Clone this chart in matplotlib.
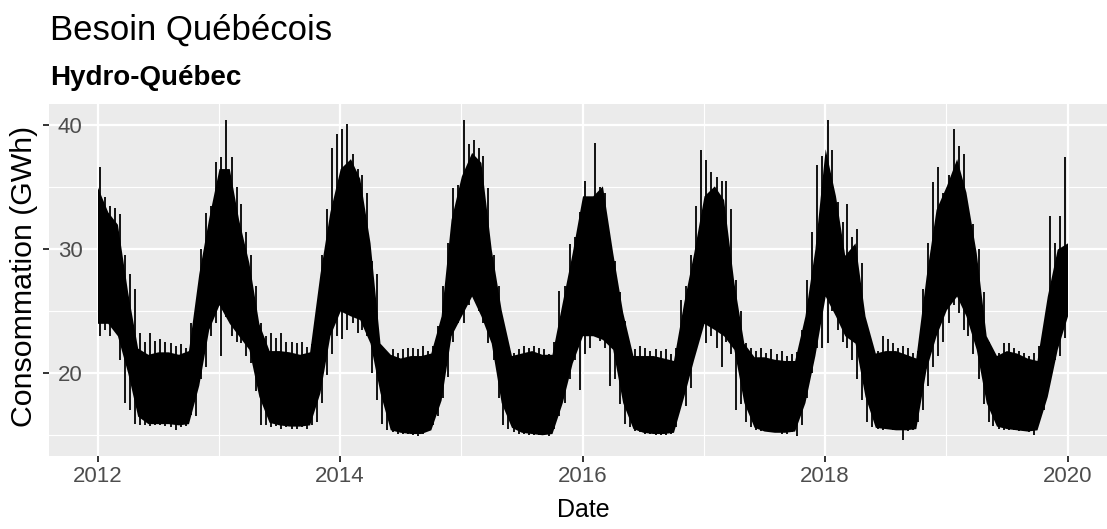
import matplotlib
matplotlib.use('Agg')
import matplotlib.pyplot as plt
import matplotlib.dates as mdates
import pandas as pd

plt.rcParams['font.family'] = ['Liberation Sans', 'DejaVu Sans']

# Besoin québécois (GWh), valeurs lues sur le graphique d'origine
# coeur de la bande : valeur au 1er de chaque mois (dernier point = 31 déc. 2019)
core_top = [
    35.0, 33.0, 32.0, 26.5, 22.0, 21.5, 21.7, 21.7, 21.5, 21.8, 28.0, 32.5,  # 2012
    36.5, 36.5, 32.4, 28.9, 24.0, 21.8, 21.8, 21.7, 21.5, 21.7, 28.0, 33.0,  # 2013
    36.5, 37.3, 35.7, 30.5, 22.4, 21.5, 21.2, 21.4, 21.4, 21.6, 24.6, 32.4,  # 2014
    35.9, 37.8, 37.0, 30.0, 25.1, 21.4, 21.6, 21.8, 21.5, 21.5, 25.7, 29.7,  # 2015
    34.3, 34.3, 35.1, 29.7, 24.9, 21.4, 21.4, 21.4, 21.2, 21.0, 25.7, 29.7,  # 2016
    34.3, 35.1, 34.0, 27.3, 22.4, 21.3, 21.3, 21.1, 21.0, 21.0, 24.6, 30.0,  # 2017
    38.1, 34.3, 29.5, 30.5, 24.6, 21.6, 21.8, 21.8, 21.5, 21.2, 27.8, 33.2,  # 2018
    35.1, 37.3, 34.6, 29.7, 23.0, 21.4, 21.8, 21.6, 21.2, 21.0, 26.2, 30.0,  # 2019
    30.5,
]
core_bot = [
    24.0, 24.0, 23.0, 20.0, 16.5, 15.9, 15.9, 15.9, 15.8, 15.9, 19.0, 23.5,
    25.5, 24.0, 23.0, 21.9, 18.1, 16.0, 15.8, 15.7, 15.7, 15.8, 18.4, 23.0,
    25.0, 24.6, 24.3, 22.4, 18.4, 15.4, 15.2, 15.1, 15.1, 15.4, 17.8, 23.0,
    24.6, 26.2, 24.6, 22.4, 17.6, 15.6, 15.2, 15.1, 15.0, 15.1, 17.6, 20.8,
    23.0, 23.0, 22.7, 21.9, 17.6, 15.5, 15.2, 15.1, 15.1, 15.2, 18.1, 21.1,
    24.0, 23.5, 23.0, 21.9, 17.6, 15.6, 15.3, 15.2, 15.2, 15.3, 17.6, 21.4,
    26.2, 24.6, 23.0, 22.4, 18.1, 15.6, 15.5, 15.4, 15.4, 15.5, 20.3, 23.0,
    25.1, 26.2, 24.6, 21.9, 17.6, 15.7, 15.5, 15.4, 15.3, 15.4, 18.1, 21.9,
    24.6,
]

# pointes haute et basse, autour du 8 et du 23 de chaque mois
spike_hi = [
    36.6, 34.2, 33.5, 33.3, 32.8, 29.5, 28.0, 26.8, 23.2, 22.5, 23.2, 22.6,
    22.7, 22.5, 22.4, 22.2, 22.3, 22.0, 24.0, 25.0, 30.0, 32.9, 33.5, 37.0,  # 2012
    37.4, 40.4, 37.4, 35.0, 33.6, 31.4, 29.5, 27.0, 24.0, 23.0, 23.2, 22.8,
    23.2, 22.5, 22.5, 22.4, 22.5, 22.1, 22.3, 24.6, 29.5, 33.2, 38.2, 39.3,  # 2013
    39.7, 40.1, 37.7, 36.5, 36.0, 34.5, 29.0, 28.0, 22.0, 21.6, 21.9, 21.6,
    21.9, 22.0, 22.0, 21.9, 22.2, 21.8, 22.2, 23.8, 27.0, 30.5, 34.9, 35.2,  # 2014
    40.4, 38.5, 38.8, 38.2, 37.5, 34.9, 29.5, 27.0, 22.5, 21.6, 21.6, 21.9,
    22.2, 22.0, 22.2, 22.0, 21.9, 21.5, 22.5, 26.6, 27.0, 30.4, 31.0, 33.0,  # 2015
    35.5, 34.0, 38.6, 35.0, 34.5, 30.0, 29.0, 26.5, 24.2, 22.0, 21.9, 22.2,
    22.0, 21.8, 21.9, 21.8, 21.9, 21.5, 22.0, 25.9, 27.0, 29.5, 33.5, 38.0,  # 2016
    37.2, 36.2, 35.8, 35.5, 35.5, 33.2, 27.5, 25.0, 22.4, 22.0, 21.8, 22.0,
    21.6, 21.9, 21.5, 21.8, 21.4, 21.5, 21.7, 23.5, 27.5, 31.4, 36.8, 37.5,  # 2017
    40.4, 38.0, 33.8, 32.2, 33.6, 31.0, 31.6, 28.9, 22.0, 21.4, 21.8, 23.0,
    22.7, 22.4, 22.0, 22.2, 22.0, 21.6, 21.8, 26.8, 30.5, 35.4, 36.6, 34.5,  # 2018
    36.0, 39.7, 38.3, 37.7, 33.0, 32.0, 30.0, 26.5, 22.5, 21.8, 21.6, 22.4,
    22.4, 22.0, 21.8, 21.6, 21.4, 21.6, 22.2, 23.0, 32.7, 30.5, 32.7, 37.4,  # 2019
]
spike_lo = [
    23.0, 23.5, 23.0, 23.4, 21.0, 17.6, 17.0, 15.9, 15.8, 15.8, 15.7, 15.8,
    15.8, 15.7, 15.6, 15.4, 15.6, 15.7, 16.6, 16.5, 19.5, 20.5, 23.0, 24.0,
    21.4, 24.5, 23.0, 22.5, 22.4, 21.4, 20.8, 18.5, 15.8, 15.8, 15.6, 15.7,
    15.5, 15.6, 15.5, 15.5, 15.6, 15.5, 15.8, 16.0, 17.6, 19.8, 21.5, 23.0,
    22.7, 23.5, 24.0, 23.2, 23.5, 23.0, 20.0, 17.8, 15.9, 15.4, 15.2, 15.1,
    15.1, 15.1, 15.0, 14.9, 15.1, 15.3, 15.8, 16.5, 18.0, 19.7, 22.5, 24.0,
    24.0, 25.5, 26.5, 25.0, 24.0, 22.4, 21.0, 18.0, 15.8, 15.5, 15.2, 15.1,
    15.1, 15.0, 15.0, 15.0, 15.0, 14.9, 15.5, 16.5, 17.6, 19.5, 21.0, 18.6,
    21.5, 22.0, 23.0, 22.6, 22.0, 18.9, 19.5, 17.5, 15.9, 15.6, 15.3, 15.2,
    15.1, 15.1, 15.0, 15.0, 15.0, 15.1, 15.6, 17.6, 17.3, 18.8, 22.0, 23.5,
    22.4, 23.0, 22.0, 20.5, 22.5, 21.5, 17.0, 17.5, 16.0, 15.6, 15.4, 15.3,
    15.3, 15.2, 15.2, 15.1, 15.1, 15.2, 14.9, 15.8, 18.0, 20.0, 22.0, 22.0,
    22.4, 25.0, 23.5, 22.5, 22.0, 21.0, 19.5, 17.8, 16.0, 15.6, 15.5, 15.4,
    15.5, 15.4, 15.4, 14.6, 15.3, 15.4, 16.0, 17.0, 18.9, 20.5, 21.4, 22.5,
    24.0, 25.5, 24.8, 23.5, 23.0, 21.5, 19.5, 17.5, 16.0, 15.7, 15.5, 15.4,
    15.4, 15.4, 15.3, 15.3, 15.2, 15.0, 16.0, 17.0, 20.0, 21.0, 21.4, 22.8,
]

months = pd.date_range('2012-01-01', '2019-12-01', freq='MS')
core_dates = list(months) + [pd.Timestamp('2019-12-31 23:00')]
spike_dates = []
for m in months:
    spike_dates.append(m + pd.Timedelta(days=7))
    spike_dates.append(m + pd.Timedelta(days=22))

W, H = 1107, 529
fig = plt.figure(figsize=(W / 100, H / 100), dpi=100)
fig.patch.set_facecolor('white')

# panneau gris façon ggplot (coupé à droite comme l'image d'origine)
ax = fig.add_axes([49 / W, 1 - 455.7 / H, (1116 - 49) / W, (455.7 - 104.3) / H])
ax.set_facecolor('#EBEBEB')
for s in ax.spines.values():
    s.set_visible(False)

ax.fill_between(core_dates, core_bot, core_top, color='black', lw=0)
ax.vlines(spike_dates, spike_lo, spike_hi, color='black', lw=1.3)

# limites avec 5% d'expansion comme ggplot
t0, t1 = core_dates[0], core_dates[-1]
span = t1 - t0
ax.set_xlim(t0 - span * 0.05, t1 + span * 0.05)
vmin = min(spike_lo + core_bot)
vmax = max(spike_hi + core_top)
ax.set_ylim(vmin - 0.05 * (vmax - vmin), vmax + 0.05 * (vmax - vmin))

ax.set_xticks([pd.Timestamp(f'{y}-01-01') for y in range(2012, 2021, 2)])
ax.set_xticks([pd.Timestamp(f'{y}-01-01') for y in range(2013, 2020, 2)], minor=True)
ax.xaxis.set_major_formatter(mdates.DateFormatter('%Y'))
ax.set_yticks([20, 30, 40])
ax.set_yticks([15, 25, 35], minor=True)

ax.grid(which='major', color='white', lw=1.6)
ax.grid(which='minor', color='white', lw=0.8)
ax.set_axisbelow(True)

ax.tick_params(which='major', length=4.3, width=1.4, color='#333333',
               labelcolor='#4D4D4D', labelsize=16)
ax.tick_params(axis='x', pad=3)
# les étiquettes de l'axe y débordent dans le panneau, comme dans l'original
ax.tick_params(axis='y', pad=-28.5)
ax.tick_params(which='minor', length=0)

fig.text(50 / W, 1 - 39.5 / H, 'Besoin Québécois', fontsize=25, va='baseline', ha='left')
fig.text(50 / W, 1 - 85 / H, 'Hydro-Québec', fontsize=20, fontweight='bold',
         va='baseline', ha='left')
fig.text(24 / W, 1 - 276 / H, 'Consommation (GWh)', fontsize=21.8, rotation=90,
         va='center', ha='center')
fig.text(583 / W, 1 - 510 / H, 'Date', fontsize=18, va='center', ha='center')

fig.savefig('out.png', dpi=100)
